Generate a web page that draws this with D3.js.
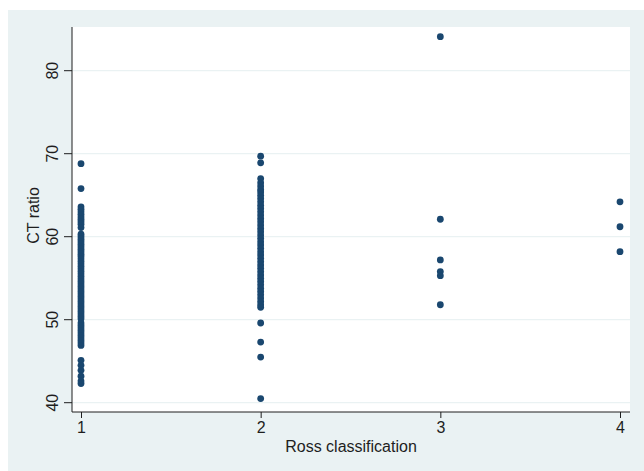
<!DOCTYPE html>
<html><head><meta charset="utf-8">
<script src="https://cdn.jsdelivr.net/npm/d3@7"></script>
<style>html,body{margin:0;padding:0;background:#fff;}svg{display:block;}</style>
</head><body>
<script>
const categories = [1, 2, 3, 4];
const yTicks = [40, 50, 60, 70, 80];
const ross1 = [68.8, 65.8, 63.6, 63.3, 63.0, 62.7, 62.4, 62.1, 61.8, 61.5, 61.1, 60.3, 60.0, 59.7, 59.4, 59.1, 58.8, 58.5, 58.2, 57.9, 57.6, 57.3, 57.0, 56.7, 56.4, 56.1, 55.8, 55.5, 55.2, 54.9, 54.6, 54.3, 54.0, 53.7, 53.4, 53.1, 52.8, 52.5, 52.2, 51.9, 51.6, 51.3, 51.0, 50.7, 50.4, 50.1, 49.6, 49.3, 49.0, 48.7, 48.4, 48.1, 47.8, 47.5, 47.2, 46.9, 45.1, 44.5, 43.9, 43.2, 42.6, 42.3];
const ross2 = [69.7, 68.9, 67.0, 66.5, 66.1, 65.7, 65.4, 65.0, 64.6, 64.2, 63.8, 63.4, 63.0, 62.6, 62.2, 61.8, 61.4, 61.0, 60.6, 60.2, 59.8, 59.4, 59.0, 58.6, 58.2, 57.8, 57.4, 57.0, 56.6, 56.2, 55.8, 55.4, 55.0, 54.6, 54.2, 53.8, 53.4, 53.0, 52.6, 52.2, 51.8, 51.5, 49.6, 47.3, 45.5, 40.5];
const ross3 = [84.1, 62.1, 57.2, 55.8, 55.3, 51.8];
const ross4 = [64.2, 61.2, 58.2];
const groups = [ross1, ross2, ross3, ross4];

const W = 644, H = 471;
const svg = d3.select("body").append("svg").attr("width", W).attr("height", H);
const font = "'Liberation Sans', Arial, sans-serif";
const ink = "#1e1e1e";

svg.append("rect").attr("x", 8).attr("y", 10).attr("width", W - 8).attr("height", H - 10).attr("fill", "#eaf2f3");

const plot = {left: 72, right: 630, top: 27, bottom: 412};
svg.append("rect").attr("x", plot.left).attr("y", plot.top)
  .attr("width", plot.right - plot.left).attr("height", plot.bottom - plot.top).attr("fill", "#fff");

const x = d3.scaleLinear().domain([1, 4]).range([81, 620]);
const y = d3.scaleLinear().domain([40, 80]).range([402.7, 70.7]);

// gridlines
svg.append("g").selectAll("line").data(yTicks).join("line")
  .attr("x1", plot.left).attr("x2", plot.right)
  .attr("y1", d => y(d)).attr("y2", d => y(d))
  .attr("stroke", "#eaf2f3").attr("stroke-width", 1.2);

// points
const pts = [];
groups.forEach((g, i) => g.forEach(v => pts.push({c: categories[i], v})));
svg.append("g").selectAll("circle").data(pts).join("circle")
  .attr("cx", d => x(d.c)).attr("cy", d => y(d.v)).attr("r", 3.4)
  .attr("fill", "#1a476f");

// y axis
const yAxis = d3.axisLeft(y).tickValues(yTicks).tickSize(8).tickPadding(4).tickFormat(d3.format("d"));
const ya = svg.append("g").attr("transform", `translate(${plot.left},0)`).call(yAxis);
ya.select(".domain").attr("d", `M0,${plot.top}V${plot.bottom}`).attr("stroke", ink);
ya.selectAll(".tick line").attr("stroke", ink);
ya.selectAll(".tick text").attr("font-family", font).attr("font-size", 16).attr("fill", ink)
  .attr("text-anchor", "middle").attr("dy", 0)
  .each(function(d){ d3.select(this).attr("transform", "rotate(-90)").attr("x", -y(d)).attr("y", -14); });
ya.selectAll(".tick").attr("transform", null);
ya.selectAll(".tick line").attr("y1", d => y(d)).attr("y2", d => y(d));

// x axis
const xAxis = d3.axisBottom(x).tickValues(categories).tickSize(6).tickPadding(4).tickFormat(d3.format("d"));
const xa = svg.append("g").attr("transform", `translate(0,${plot.bottom})`).call(xAxis);
xa.select(".domain").attr("d", `M${plot.left},0H${plot.right}`).attr("stroke", ink);
xa.selectAll(".tick line").attr("stroke", ink);
xa.selectAll(".tick text").attr("font-family", font).attr("font-size", 16).attr("fill", ink);

svg.append("text").attr("x", 351).attr("y", 452).attr("text-anchor", "middle")
  .attr("font-family", font).attr("font-size", 16).attr("fill", ink).text("Ross classification");
svg.append("text").attr("transform", `translate(39,${(plot.top + plot.bottom) / 2 - 4}) rotate(-90)`)
  .attr("text-anchor", "middle").attr("font-family", font).attr("font-size", 16).attr("fill", ink).text("CT ratio");
</script>
</body></html>
